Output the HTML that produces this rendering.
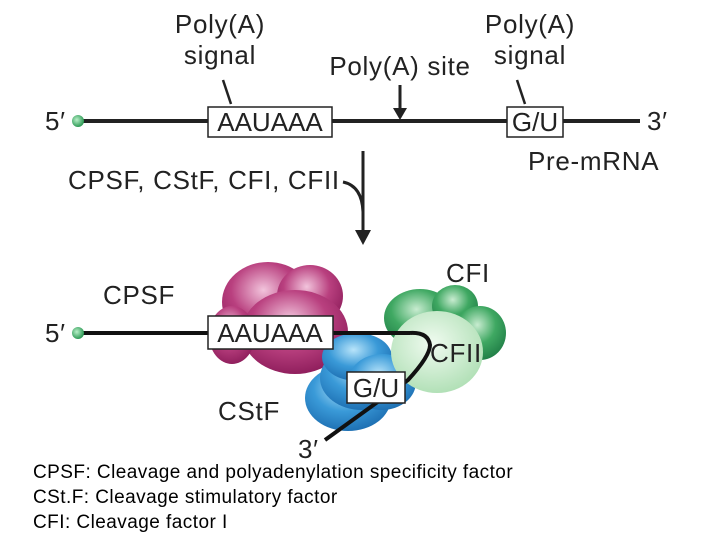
<!DOCTYPE html>
<html><head><style>
html,body{margin:0;padding:0;background:#fff;width:720px;height:540px;overflow:hidden}
svg{display:block}
text{font-family:"Liberation Sans",sans-serif}
</style></head><body>
<svg width="720" height="540" viewBox="0 0 720 540">
<defs>
<radialGradient id="pu" cx="0.45" cy="0.35" r="0.7"><stop offset="0" stop-color="#f2c4dc"/><stop offset="0.5" stop-color="#b9407f"/><stop offset="1" stop-color="#8a1a58"/></radialGradient>
<radialGradient id="gr" cx="0.45" cy="0.35" r="0.7"><stop offset="0" stop-color="#c8ecd0"/><stop offset="0.5" stop-color="#3fa862"/><stop offset="1" stop-color="#1d7a44"/></radialGradient>
<radialGradient id="lg" cx="0.45" cy="0.4" r="0.7"><stop offset="0" stop-color="#f0fbf0"/><stop offset="1" stop-color="#a8dcae"/></radialGradient>
<radialGradient id="bl" cx="0.45" cy="0.35" r="0.7"><stop offset="0" stop-color="#b8e4fa"/><stop offset="0.5" stop-color="#3a9ad8"/><stop offset="1" stop-color="#1a6aae"/></radialGradient>
<radialGradient id="dot" cx="0.4" cy="0.4" r="0.6"><stop offset="0" stop-color="#b8f0c8"/><stop offset="1" stop-color="#2e9a56"/></radialGradient>
</defs>
<g font-size="26" fill="#222" letter-spacing="0.7">
<text x="220" y="33" text-anchor="middle">Poly(A)</text>
<text x="220" y="64" text-anchor="middle">signal</text>
<text x="530" y="33" text-anchor="middle">Poly(A)</text>
<text x="530" y="64" text-anchor="middle">signal</text>
<text x="400" y="75" text-anchor="middle">Poly(A) site</text>
<text x="45" y="130">5′</text>
<text x="647" y="130">3′</text>
<text x="528" y="170">Pre-mRNA</text>
<text x="68" y="189">CPSF, CStF, CFI, CFII</text>
</g>
<g stroke="#222" stroke-width="4" fill="none">
<line x1="78" y1="121" x2="640" y2="121"/>
<line x1="223" y1="80" x2="231" y2="104" stroke-width="2.5"/>
<line x1="517" y1="80" x2="525" y2="104" stroke-width="2.5"/>
<line x1="400" y1="85" x2="400" y2="112" stroke-width="3"/>
<line x1="363" y1="151" x2="363" y2="232" stroke-width="3"/>
<path d="M343 182 Q362 186 363 212" stroke-width="3"/>
</g>
<polygon points="393,108 407,108 400,120" fill="#222"/>
<polygon points="355,230 371,230 363,245" fill="#222"/>
<circle cx="78" cy="121" r="6" fill="url(#dot)"/>
<rect x="208" y="107" width="124" height="30" fill="#fff" stroke="#222" stroke-width="1.5"/>
<text x="270" y="131" font-size="26" text-anchor="middle" fill="#222">AAUAAA</text>
<rect x="507" y="107" width="56" height="30" fill="#fff" stroke="#222" stroke-width="1.5"/>
<text x="535" y="131" font-size="26" text-anchor="middle" fill="#222">G/U</text>

<g>
<ellipse cx="268" cy="302" rx="46" ry="40" fill="url(#pu)"/>
<ellipse cx="310" cy="296" rx="33" ry="31" fill="url(#pu)"/>
<ellipse cx="295" cy="332" rx="53" ry="42" fill="url(#pu)"/>
<ellipse cx="232" cy="335" rx="23" ry="29" fill="url(#pu)"/>
<ellipse cx="420" cy="318" rx="36" ry="29" fill="url(#gr)"/>
<ellipse cx="455" cy="306" rx="23" ry="21" fill="url(#gr)"/>
<ellipse cx="480" cy="333" rx="26" ry="27" fill="url(#gr)"/>
<ellipse cx="348" cy="398" rx="43" ry="33" fill="url(#bl)"/>
<ellipse cx="362" cy="378" rx="42" ry="32" fill="url(#bl)"/>
<ellipse cx="357" cy="357" rx="35" ry="24" fill="url(#bl)"/>
<ellipse cx="382" cy="382" rx="34" ry="28" fill="url(#bl)"/>
<ellipse cx="437" cy="352" rx="46" ry="41" fill="url(#lg)"/>
</g>
<g stroke="#111" stroke-width="4" fill="none">
<line x1="78" y1="333" x2="410" y2="333"/>
<path d="M410 333 Q428 332 430 345 Q430 356 408 380 L325 440"/>
</g>
<circle cx="78" cy="333" r="6" fill="url(#dot)"/>
<rect x="208" y="316" width="125" height="33" fill="#fff" stroke="#222" stroke-width="1.5"/>
<text x="270" y="342" font-size="26" text-anchor="middle" fill="#222">AAUAAA</text>
<rect x="347" y="372" width="58" height="31" fill="#fff" stroke="#222" stroke-width="1.5"/>
<text x="376" y="397" font-size="26" text-anchor="middle" fill="#222">G/U</text>
<g font-size="26" fill="#222" letter-spacing="0.7">
<text x="103" y="304">CPSF</text>
<text x="446" y="282">CFI</text>
<text x="430" y="362">CFII</text>
<text x="218" y="420">CStF</text>
<text x="45" y="342">5′</text>
<text x="298" y="458">3′</text>
</g>
<g font-size="19" fill="#000" letter-spacing="0.45">
<text x="33" y="478">CPSF: Cleavage and polyadenylation specificity factor</text>
<text x="33" y="503">CSt.F: Cleavage stimulatory factor</text>
<text x="33" y="528">CFI: Cleavage factor I</text>
</g>
</svg>
</body></html>
